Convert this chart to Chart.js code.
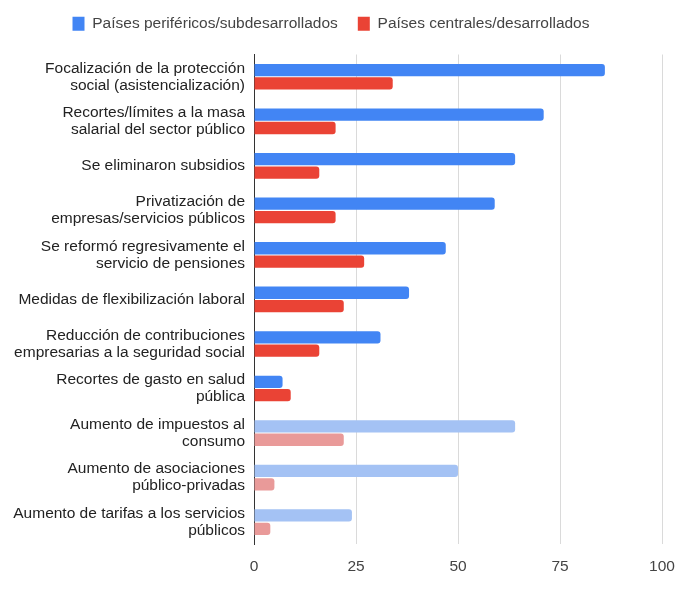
<!DOCTYPE html>
<html>
<head>
<meta charset="utf-8">
<script src="https://cdn.jsdelivr.net/npm/chart.js@4/dist/chart.umd.min.js"></script>
<style>
  html, body { margin: 0; padding: 0; background: #fff; }
  #wrap { width: 700px; height: 597px; }
</style>
</head>
<body>
<div id="wrap"><canvas id="chartBars"></canvas></div>
<script>
const categories = [
    ["Focalización de la protección", "social (asistencialización)"],
    ["Recortes/límites a la masa", "salarial del sector público"],
    "Se eliminaron subsidios",
    ["Privatización de", "empresas/servicios públicos"],
    ["Se reformó regresivamente el", "servicio de pensiones"],
    "Medidas de flexibilización laboral",
    ["Reducción de contribuciones", "empresarias a la seguridad social"],
    ["Recortes de gasto en salud", "pública"],
    ["Aumento de impuestos al", "consumo"],
    ["Aumento de asociaciones", "público-privadas"],
    ["Aumento de tarifas a los servicios", "públicos"]
];
const periferia = [86, 71, 64, 59, 47, 38, 31, 7, 64, 50, 24];
const centro = [34, 20, 16, 20, 27, 22, 16, 9, 22, 5, 4];
const xTicks = [0, 25, 50, 75, 100];

const seriesNames = ["Países periféricos/subdesarrollados", "Países centrales/desarrollados"];
const lightFrom = 8; // las tres últimas categorías van en tono claro

function shade(dark, light) {
    return (ctx) => (ctx.dataIndex >= lightFrom ? light : dark);
}

// deja más aire entre la leyenda y el área del gráfico
const legendGap = {
    id: 'legendGap',
    beforeInit(chart) {
        const fit = chart.legend.fit;
        chart.legend.fit = function () {
            fit.bind(chart.legend)();
            this.height += 13;
        };
    }
};

const fontFamily = '"Liberation Sans", Arial, sans-serif';

const ctx = document.getElementById("chartBars").getContext('2d');
new Chart(ctx, {
    type: "bar",
    data: {
        labels: categories,
        datasets: [
            {
                label: seriesNames[0],
                data: periferia,
                backgroundColor: shade('#4285F4', '#A4C2F4'),
                borderRadius: 3,
                borderSkipped: 'left',
                categoryPercentage: 0.6,
                barPercentage: 0.92
            },
            {
                label: seriesNames[1],
                data: centro,
                backgroundColor: shade('#EA4335', '#E99A99'),
                borderRadius: 3,
                borderSkipped: 'left',
                categoryPercentage: 0.6,
                barPercentage: 0.92
            }
        ]
    },
    options: {
        indexAxis: 'y',
        responsive: true,
        maintainAspectRatio: false,
        animation: false,
        layout: { padding: { left: 0, right: 38, top: -4, bottom: 8 } },
        scales: {
            x: {
                min: 0,
                max: 100,
                afterBuildTicks: (axis) => { axis.ticks = xTicks.map(v => ({ value: v })); },
                grid: { color: '#DADADA', lineWidth: 1, drawTicks: false },
                border: { display: false },
                ticks: {
                    color: '#444',
                    padding: 13,
                    font: { family: fontFamily, size: 15.5 }
                }
            },
            y: {
                grid: { display: false, drawTicks: false },
                border: { display: true, color: '#333', width: 1 },
                afterFit: (axis) => { axis.width = 254; },
                ticks: {
                    color: '#222',
                    padding: 9,
                    font: { family: fontFamily, size: 15.5, lineHeight: 1.1 }
                }
            }
        },
        plugins: {
            legend: {
                display: true,
                position: 'top',
                labels: {
                    boxWidth: 12,
                    boxHeight: 14,
                    padding: 20,
                    color: '#444',
                    font: { family: fontFamily, size: 15.5 }
                }
            },
            tooltip: { enabled: false }
        }
    },
    plugins: [legendGap]
});
</script>
</body>
</html>
